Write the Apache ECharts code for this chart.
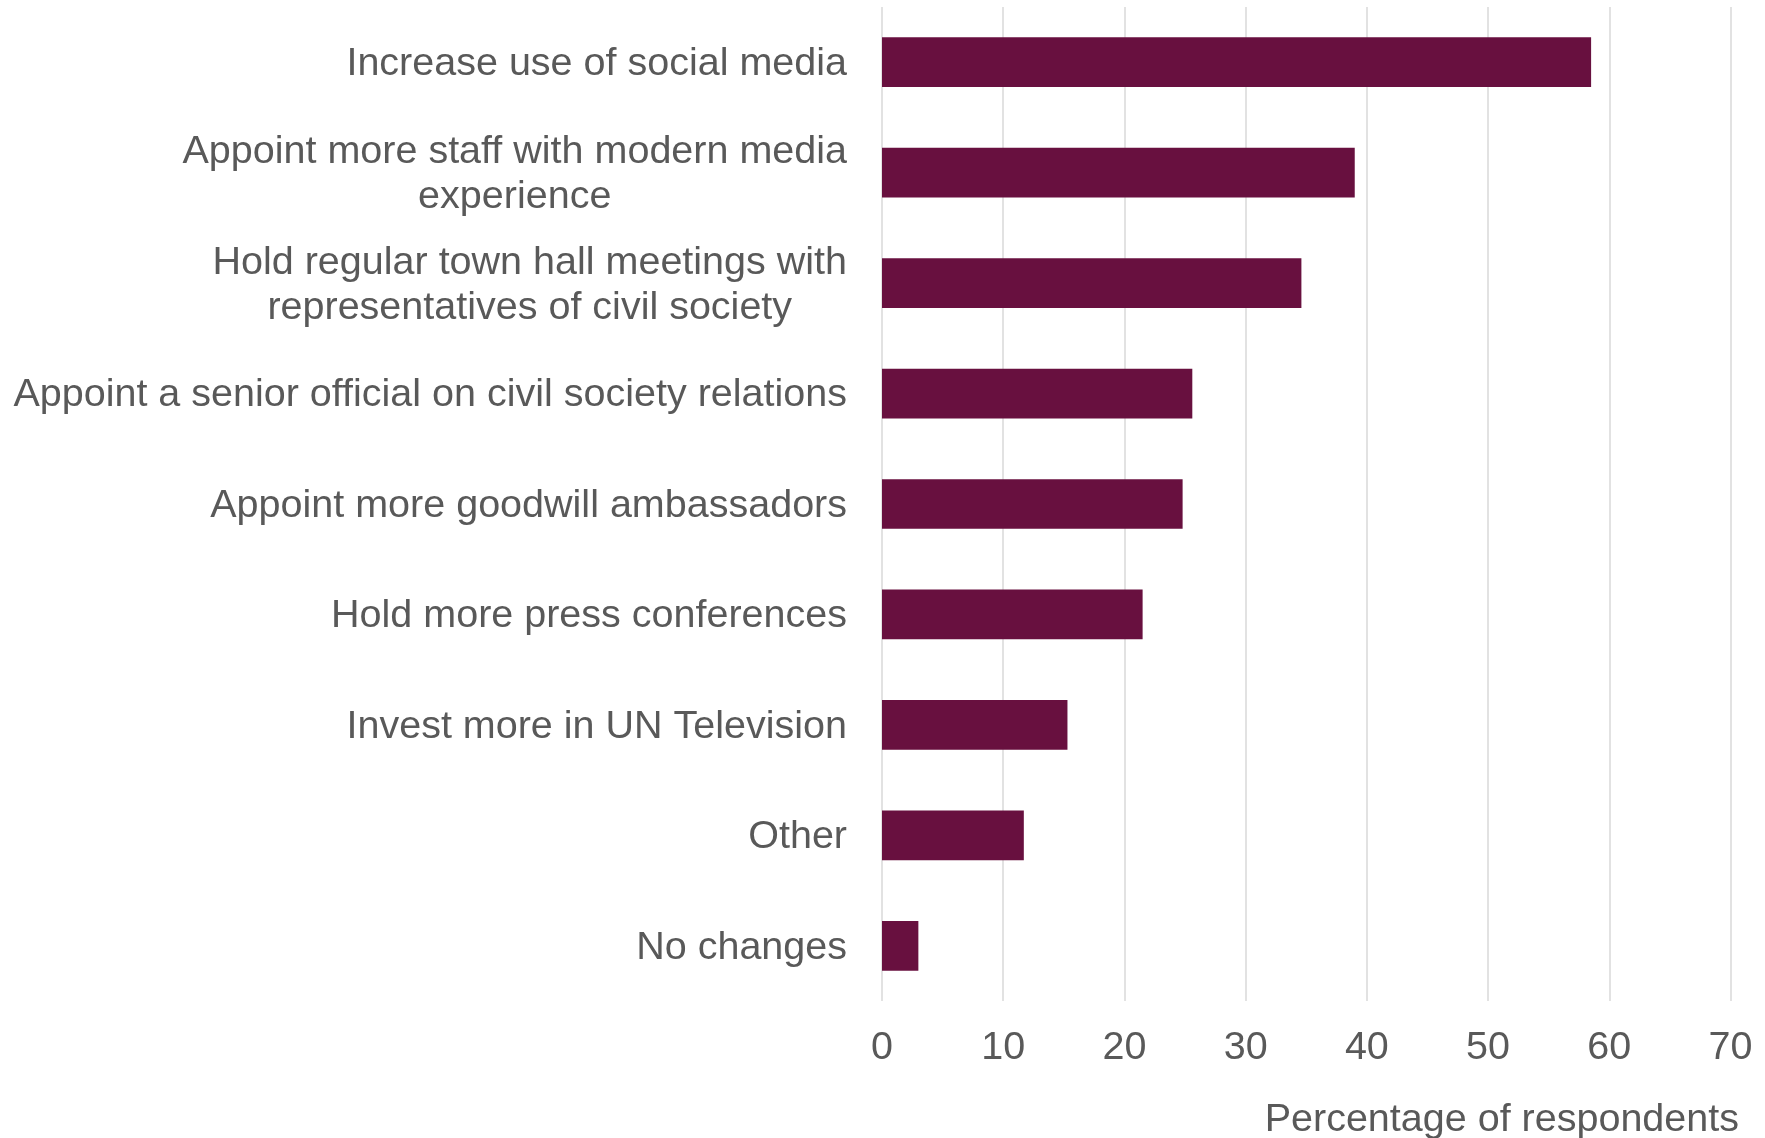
<!DOCTYPE html>
<html>
<head>
<meta charset="utf-8">
<script src="https://cdn.jsdelivr.net/npm/echarts@6/dist/echarts.min.js"></script>
<style>
html,body{margin:0;padding:0;background:#fff;}
#chart{width:1765px;height:1138px;}
</style>
</head>
<body>
<div id="chart"></div>
<script>
const categories = [
  'Increase use of social media',
  'Appoint more staff with modern media\nexperience',
  'Hold regular town hall meetings with\nrepresentatives of civil society',
  'Appoint a senior official on civil society relations',
  'Appoint more goodwill ambassadors',
  'Hold more press conferences',
  'Invest more in UN Television',
  'Other',
  'No changes'
];
const values = [58.5, 39.0, 34.6, 25.6, 24.8, 21.5, 15.3, 11.7, 3.0];
const xTicks = [0, 10, 20, 30, 40, 50, 60, 70];
const axisTitle = 'Percentage of respondents';

const FONT = '"Liberation Sans", Arial, sans-serif';
const TXT = '#595959';
const FS = 39.5;

const chart = echarts.init(document.getElementById('chart'));
chart.setOption({
  backgroundColor: '#ffffff',
  animation: false,
  title: {
    text: axisTitle,
    right: 26,
    top: 1100,
    padding: 0,
    textStyle: { fontFamily: FONT, fontSize: FS, fontWeight: 'normal', color: TXT }
  },
  grid: { left: 882, right: 34.5, top: 7, bottom: 137, containLabel: false },
  xAxis: {
    type: 'value',
    min: xTicks[0],
    max: xTicks[xTicks.length - 1],
    interval: 10,
    axisLine: { show: false },
    axisTick: { show: false },
    splitLine: { show: true, lineStyle: { color: '#d9d9d9', width: 1.5 } },
    axisLabel: { margin: 27, fontFamily: FONT, fontSize: FS, color: TXT }
  },
  yAxis: {
    type: 'category',
    inverse: true,
    data: categories,
    axisLine: { show: false },
    axisTick: { show: false },
    axisLabel: {
      margin: 35,
      fontFamily: FONT,
      fontSize: FS,
      color: TXT,
      align: 'right',
      lineHeight: 45,
      padding: [4, 0, 0, 0],
      formatter: function (v) {
        return v.split('\n').map(function (l) { return '{c|' + l + '}'; }).join('\n');
      },
      rich: {
        c: { align: 'center', fontFamily: FONT, fontSize: FS, color: TXT, lineHeight: 45 }
      }
    }
  },
  series: [{
    type: 'bar',
    data: values,
    barCategoryGap: '55%',
    itemStyle: { color: '#68103F' }
  }]
});
</script>
</body>
</html>
